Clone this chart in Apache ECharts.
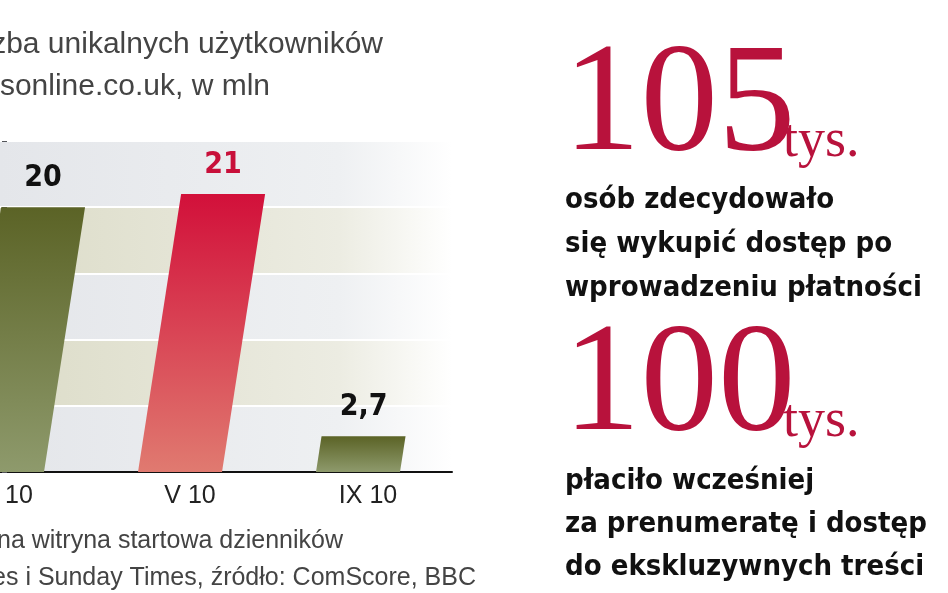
<!DOCTYPE html>
<html><head><meta charset="utf-8">
<script src="https://cdn.jsdelivr.net/npm/echarts@6/dist/echarts.min.js"></script>
<style>html,body{margin:0;padding:0;background:#fff}#c{width:948px;height:593px}</style>
</head><body><div id="c"></div>
<script>
const categories = ['I 10', 'V 10', 'IX 10'];
const values = [20, 21, 2.7];
const valueLabels = ['20', '21', '2,7'];
const highlight = [false, true, false];

const chart = echarts.init(document.getElementById('c'));
const olive = new echarts.graphic.LinearGradient(0,0,0,1,[{offset:0,color:'#5b6326'},{offset:1,color:'#8e9a6c'}]);
const red = new echarts.graphic.LinearGradient(0,0,0,1,[{offset:0,color:'#d2103a'},{offset:1,color:'#e07a70'}]);
const bandBlue = new echarts.graphic.LinearGradient(0,0,1,0,[{offset:0,color:'#e4e6ea'},{offset:0.75,color:'#eef0f2'},{offset:1,color:'#ffffff'}]);
const bandBeige = new echarts.graphic.LinearGradient(0,0,1,0,[{offset:0,color:'#dcdcc8'},{offset:0.75,color:'#ecece2'},{offset:1,color:'#ffffff'}]);

const t = (x,y,text,style) => ({type:'text',x,y,style:Object.assign({text},style)});
const bodyFont = {fontFamily:'DejaVu Sans Condensed',fontWeight:'bold',fontSize:29,fill:'#111',textVerticalAlign:'middle'};
const bigFont = {fontFamily:'Liberation Serif',fontSize:155,fill:'#b8123c'};
const tysFont = {fontFamily:'Liberation Serif',fontSize:54,fill:'#b8123c'};
const grayFont = {fontFamily:'Liberation Sans',fontSize:30,fill:'#444',textAlign:'right',textVerticalAlign:'middle'};
const footFont = {fontFamily:'Liberation Sans',fontSize:25,fill:'#444',textAlign:'right',textVerticalAlign:'middle'};

chart.setOption({
  animation:false,
  grid:{left:0,width:452,top:141,bottom:121},
  xAxis:{type:'value',min:-7/178,max:445/178,axisTick:{show:false},splitLine:{show:false},
    axisLine:{lineStyle:{color:'#111',width:2}},axisLabel:{show:false}},
  yAxis:{type:'value',min:0,max:25,interval:5,axisLabel:{show:false},axisLine:{show:false},
    splitLine:{show:true,lineStyle:{color:'#ffffff',width:2}},
    splitArea:{show:true,areaStyle:{color:[bandBlue,bandBeige]}}},
  series:[{
    type:'custom',
    data:values.map((v,i)=>[i,v]),
    renderItem:(params,api)=>{
      const i=api.value(0), v=api.value(1);
      const base=api.coord([i,0]), top=api.coord([i,v]);
      const w=84, h=base[1]-top[1], s=h*0.155;
      const x0=base[0]-w/2-5;
      const pts=[[x0,base[1]],[x0+w,base[1]],[x0+w+s,top[1]],[x0+s,top[1]]];
      return {type:'group',children:[
        {type:'polygon',shape:{points:pts},style:{fill:highlight[i]?red:olive}},
        {type:'text',x:x0+s+w/2,y:top[1]-14,style:{text:valueLabels[i],fontFamily:'DejaVu Sans Condensed',fontWeight:'bold',fontSize:30,fill:highlight[i]?'#c8103a':'#111',textAlign:'center',textVerticalAlign:'bottom'}},
        {type:'text',x:base[0]+5,y:base[1]+24,style:{text:categories[i],fontFamily:'Liberation Sans',fontSize:25,fill:'#222',textAlign:'center',textVerticalAlign:'middle'}}
      ]};
    }
  }],
  graphic:[
    t(383,45,'Liczba unikalnych użytkowników',grayFont),
    t(270,87,'timesonline.co.uk, w mln',grayFont),
    t(343,541,'*wspólna witryna startowa dzienników',footFont),
    t(476,578,'Times i Sunday Times, źródło: ComScore, BBC',footFont),
    t(563,31,'105',bigFont),
    t(783,115,'tys.',tysFont),
    t(565,200,'osób zdecydowało',bodyFont),
    t(565,244,'się wykupić dostęp po',bodyFont),
    t(565,288,'wprowadzeniu płatności',bodyFont),
    t(563,311,'100',bigFont),
    t(783,395,'tys.',tysFont),
    t(565,481,'płaciło wcześniej',bodyFont),
    t(565,524,'za prenumeratę i dostęp',bodyFont),
    t(565,567,'do ekskluzywnych treści',bodyFont)
  ]
});
</script></body></html>
